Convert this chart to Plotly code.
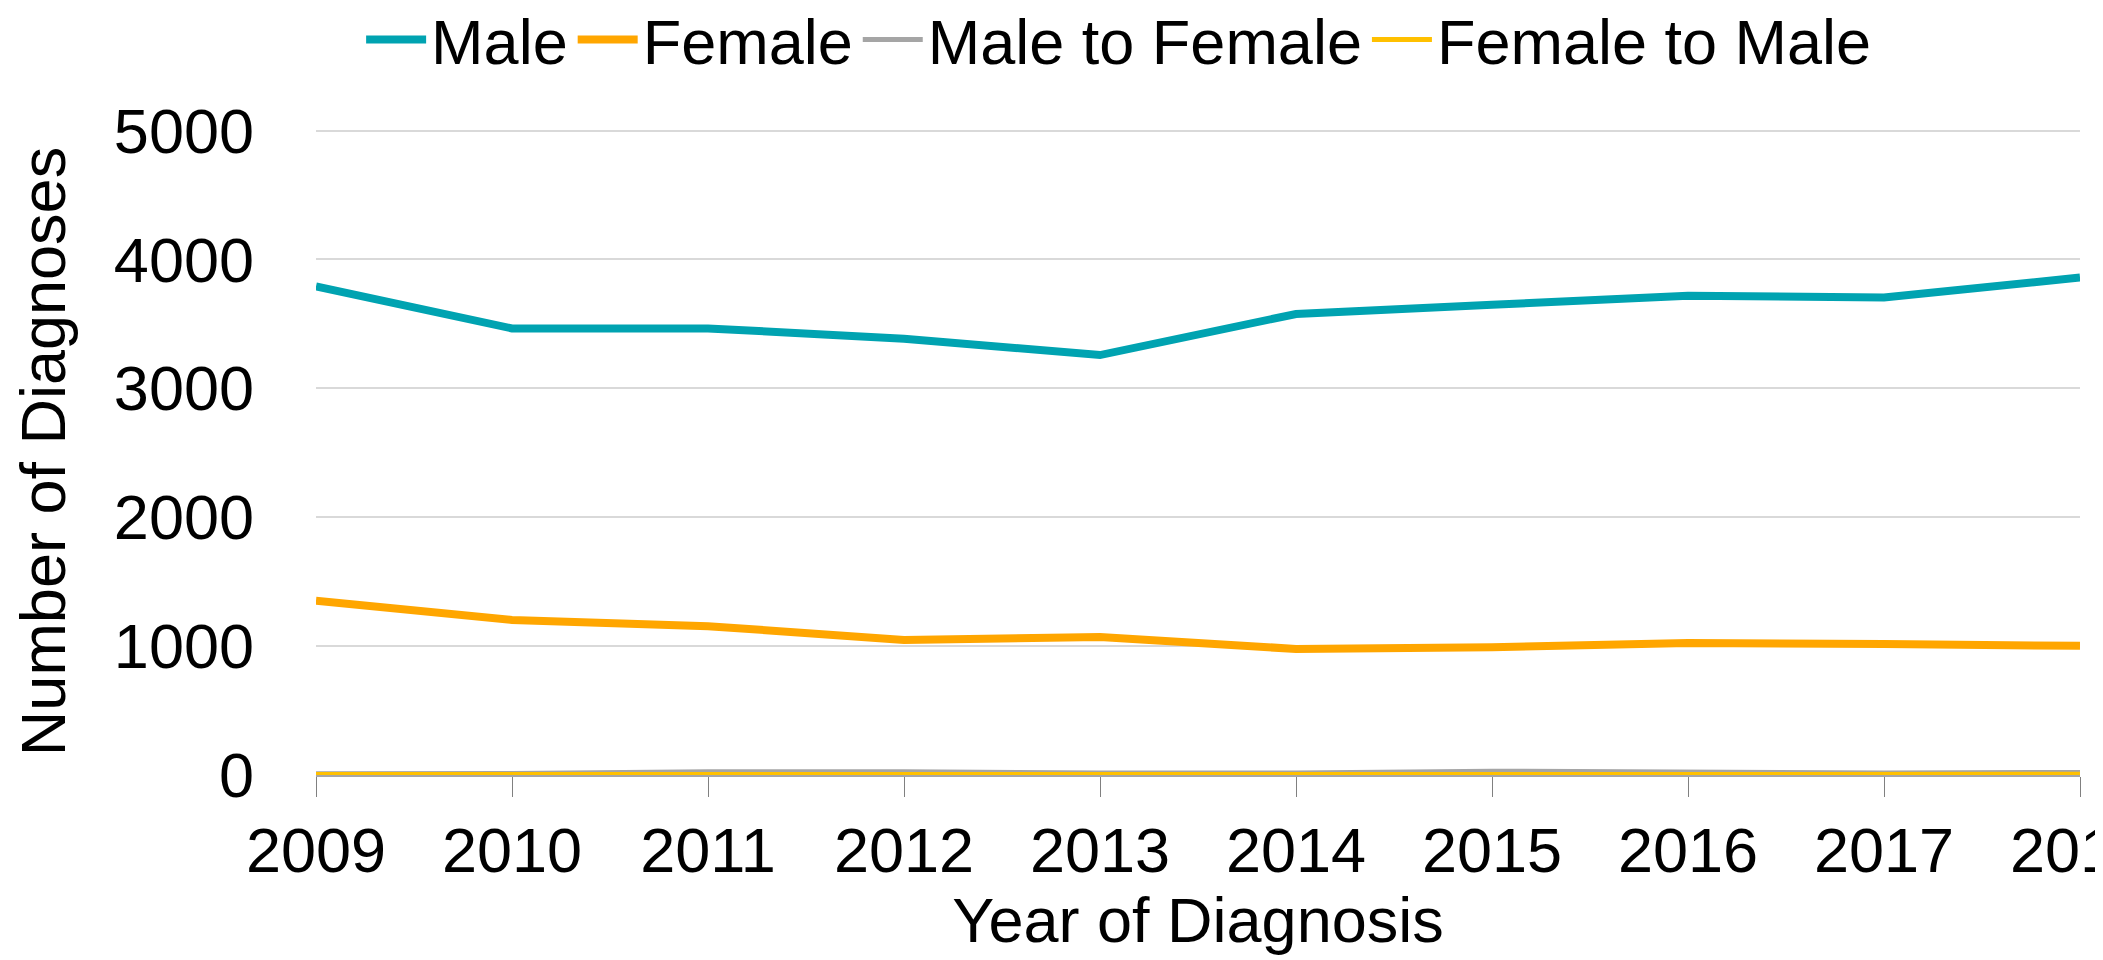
import plotly.graph_objects as go

years = [2009, 2010, 2011, 2012, 2013, 2014, 2015, 2016, 2017, 2018]
male = [3790, 3465, 3465, 3385, 3258, 3577, 3648, 3719, 3705, 3860]
female = [1352, 1203, 1155, 1048, 1070, 978, 992, 1025, 1016, 1002]
male_to_female = [10, 12, 25, 25, 15, 15, 30, 20, 15, 20]
female_to_male = [3, 3, 4, 4, 4, 5, 5, 5, 5, 5]

y_ticks = [0, 1000, 2000, 3000, 4000, 5000]

FONT = "Arial, Liberation Sans, sans-serif"

fig = go.Figure()
series = [
    ("Male", male, "#00A3B1", 8),
    ("Female", female, "#FFA600", 8),
    ("Male to Female", male_to_female, "#A5A5A5", 5),
    ("Female to Male", female_to_male, "#FFC000", 5),
]
for name, vals, col, w in series:
    fig.add_trace(go.Scatter(x=years, y=vals, name=name, mode="lines",
                             line=dict(color=col, width=w)))

fig.update_layout(
    width=2103, height=960,
    paper_bgcolor="white", plot_bgcolor="white",
    margin=dict(l=308, r=31, t=120, b=193, autoexpand=False),
    font=dict(family=FONT, size=63, color="black"),
    showlegend=True,
    legend=dict(orientation="h", x=0.455, xanchor="center",
                y=1.21, yanchor="top",
                font=dict(family=FONT, size=63, color="black"),
                itemwidth=60, tracegroupgap=0, bgcolor="rgba(0,0,0,0)"),
    xaxis=dict(
        range=[2009, 2018], tickmode="array", tickvals=years,
        ticktext=[str(y) for y in years],
        automargin=False,
        showgrid=False, showline=True, linecolor="#A6A6A6", linewidth=1.5,
        ticks="outside", ticklen=20, tickcolor="#808080", tickwidth=1,
        tickfont=dict(family=FONT, size=63),
        ticklabeloverflow="allow",
        title=dict(text="Year of Diagnosis", font=dict(family=FONT, size=63), standoff=10),
        zeroline=False,
    ),
    yaxis=dict(
        range=[0, 5020], tickmode="array", tickvals=y_ticks,
        ticktext=[str(v) for v in y_ticks],
        automargin=False,
        showgrid=True, gridcolor="#D9D9D9", gridwidth=2,
        showline=False, zeroline=False,
        tickfont=dict(family=FONT, size=63),
        ticklabelstandoff=61,
        title=dict(text="Number of Diagnoses", font=dict(family=FONT, size=63), standoff=33),
    ),
)

fig.write_html("out.html")
